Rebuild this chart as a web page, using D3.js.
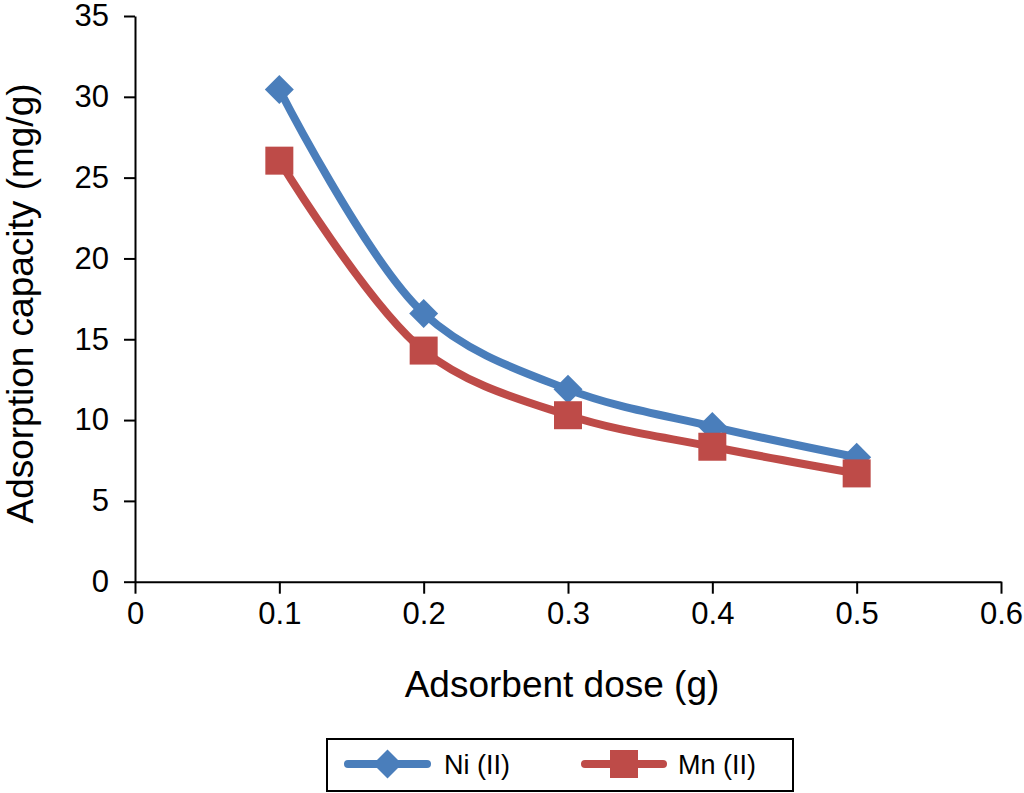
<!DOCTYPE html>
<html>
<head>
<meta charset="utf-8">
<script src="https://cdn.jsdelivr.net/npm/d3@7"></script>
<style>
  body { margin: 0; background: #fff; }
  svg { display: block; font-family: "Liberation Sans", Arial, sans-serif; }
  .axis path, .axis line { stroke: #000; stroke-width: 2; }
  .axis text { fill: #000; font-size: 31px; }
</style>
</head>
<body>
<div id="chart"></div>
<script>
// data
var doses = [0.1, 0.2, 0.3, 0.4, 0.5];
var niValues = [30.45, 16.6, 11.9, 9.6, 7.7];
var mnValues = [26.05, 14.3, 10.3, 8.35, 6.7];
var xTicks = [0, 0.1, 0.2, 0.3, 0.4, 0.5, 0.6];
var yTicks = [0, 5, 10, 15, 20, 25, 30, 35];

var series = [
  {name: "Ni (II)", values: niValues, color: "#4a7ebb", marker: "diamond"},
  {name: "Mn (II)", values: mnValues, color: "#be4b48", marker: "square"}
];

var width = 1024, height = 793;

var svg = d3.select("#chart")
  .append("svg")
  .attr("width", width)
  .attr("height", height);

var x = d3.scaleLinear()
    .domain([0, 0.6])
    .range([135, 1001]);

var y = d3.scaleLinear()
    .domain([0, 35])
    .range([581.7, 16]);

svg.append("g")
    .attr("class", "axis axis--x")
    .attr("transform", "translate(0," + y(0) + ")")
    .call(d3.axisBottom(x)
      .tickValues(xTicks)
      .tickFormat(function(d) { return d === 0 ? "0" : d3.format(".1f")(d); })
      .tickSize(12)
      .tickSizeOuter(0)
      .tickPadding(8));

svg.append("g")
    .attr("class", "axis axis--y")
    .attr("transform", "translate(" + x(0) + ",0)")
    .call(d3.axisLeft(y)
      .tickValues(yTicks)
      .tickSize(11)
      .tickSizeOuter(0)
      .tickPadding(15));

// axis titles
svg.append("text")
    .attr("x", 562)
    .attr("y", 697)
    .attr("text-anchor", "middle")
    .attr("font-size", 37)
    .text("Adsorbent dose (g)");

svg.append("text")
    .attr("transform", "translate(33,303.5) rotate(-90)")
    .attr("text-anchor", "middle")
    .attr("font-size", 37)
    .text("Adsorption capacity (mg/g)");

var line = d3.line()
    .x(function(d, i) { return x(doses[i]); })
    .y(function(d) { return y(d); })
    .curve(d3.curveCatmullRom.alpha(0.5));

var symbols = {
  diamond: d3.symbol().type(d3.symbolSquare).size(420),
  square: d3.symbol().type(d3.symbolSquare).size(784)
};

function drawMarker(g, s, cx, cy) {
  var p = g.append("path")
      .attr("d", symbols[s.marker]())
      .attr("fill", s.color);
  if (s.marker === "diamond") {
    p.attr("transform", "translate(" + cx + "," + cy + ") rotate(45)");
  } else {
    p.attr("transform", "translate(" + cx + "," + cy + ")");
  }
}

series.forEach(function(s) {
  svg.append("path")
      .datum(s.values)
      .attr("fill", "none")
      .attr("stroke", s.color)
      .attr("stroke-width", 8)
      .attr("stroke-linecap", "round")
      .attr("d", line);
});

series.forEach(function(s) {
  var g = svg.append("g");
  s.values.forEach(function(v, i) {
    drawMarker(g, s, x(doses[i]), y(v));
  });
});

// legend
var legend = svg.append("g");
legend.append("rect")
    .attr("x", 327)
    .attr("y", 739)
    .attr("width", 466)
    .attr("height", 52)
    .attr("fill", "#fff")
    .attr("stroke", "#000")
    .attr("stroke-width", 2);

var legendPos = [{x0: 348, x1: 427, tx: 444}, {x0: 585, x1: 663, tx: 678}];
series.forEach(function(s, i) {
  var p = legendPos[i];
  legend.append("line")
      .attr("x1", p.x0).attr("x2", p.x1)
      .attr("y1", 764).attr("y2", 764)
      .attr("stroke", s.color)
      .attr("stroke-width", 8)
      .attr("stroke-linecap", "round");
  drawMarker(legend, s, (p.x0 + p.x1) / 2, 764);
  legend.append("text")
      .attr("x", p.tx)
      .attr("y", 774)
      .attr("font-size", 27)
      .text(s.name);
});
</script>
</body>
</html>
